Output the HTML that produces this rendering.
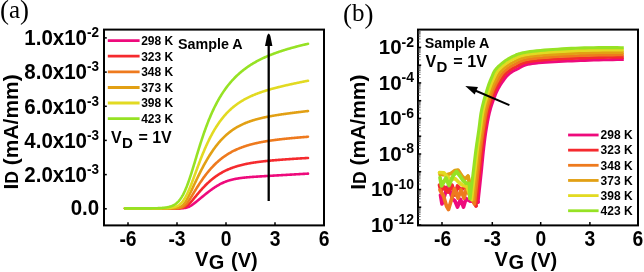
<!DOCTYPE html>
<html><head><meta charset="utf-8"><style>
html,body{margin:0;padding:0;background:#fff;}
body{width:644px;height:272px;overflow:hidden;font-family:"Liberation Sans",sans-serif;}
svg{display:block;will-change:transform;}
</style></head><body>
<svg width="644" height="272" viewBox="0 0 644 272">
<rect width="644" height="272" fill="#fff"/>
<text x="0.00" y="18.90" font-size="27" text-anchor="start" font-family="Liberation Serif, serif" >(</text>
<text x="9.00" y="18.00" font-size="25" text-anchor="start" font-family="Liberation Serif, serif" >a</text>
<text x="20.10" y="18.90" font-size="27" text-anchor="start" font-family="Liberation Serif, serif" >)</text>
<path d="M125.00 208.40 L125.50 208.40 L126.00 208.40 L126.50 208.40 L127.00 208.40 L127.50 208.40 L128.00 208.40 L128.50 208.40 L129.00 208.40 L129.50 208.40 L130.00 208.40 L130.50 208.40 L131.00 208.40 L131.50 208.40 L132.00 208.40 L132.50 208.40 L133.00 208.40 L133.50 208.40 L134.00 208.40 L134.50 208.40 L135.00 208.40 L135.50 208.40 L136.00 208.40 L136.50 208.40 L137.00 208.40 L137.50 208.40 L138.00 208.40 L138.50 208.40 L139.00 208.40 L139.50 208.40 L140.00 208.40 L140.50 208.40 L141.00 208.40 L141.50 208.40 L142.00 208.40 L142.50 208.40 L143.00 208.40 L143.50 208.40 L144.00 208.40 L144.50 208.40 L145.00 208.40 L145.50 208.40 L146.00 208.40 L146.50 208.40 L147.00 208.40 L147.50 208.40 L148.00 208.40 L148.50 208.40 L149.00 208.40 L149.50 208.40 L150.00 208.40 L150.50 208.40 L151.00 208.40 L151.50 208.40 L152.00 208.40 L152.50 208.40 L153.00 208.40 L153.50 208.40 L154.00 208.40 L154.50 208.40 L155.00 208.40 L155.50 208.40 L156.00 208.40 L156.50 208.40 L157.00 208.40 L157.50 208.40 L158.00 208.40 L158.50 208.40 L159.00 208.40 L159.50 208.40 L160.00 208.40 L160.50 208.40 L161.00 208.40 L161.50 208.40 L162.00 208.40 L162.50 208.40 L163.00 208.40 L163.50 208.40 L164.00 208.40 L164.50 208.40 L165.00 208.40 L165.50 208.40 L166.00 208.40 L166.50 208.40 L167.00 208.40 L167.50 208.40 L168.00 208.40 L168.50 208.40 L169.00 208.40 L169.50 208.40 L170.00 208.40 L170.50 208.40 L171.00 208.40 L171.50 208.40 L172.00 208.40 L172.50 208.40 L173.00 208.40 L173.50 208.39 L174.00 208.39 L174.50 208.39 L175.00 208.39 L175.50 208.39 L176.00 208.39 L176.50 208.38 L177.00 208.38 L177.50 208.37 L178.00 208.37 L178.50 208.36 L179.00 208.35 L179.50 208.34 L180.00 208.33 L180.50 208.32 L181.00 208.30 L181.50 208.28 L182.00 208.25 L182.50 208.22 L183.00 208.18 L183.50 208.13 L184.00 208.08 L184.50 208.02 L185.00 207.94 L185.50 207.85 L186.00 207.74 L186.50 207.62 L187.00 207.48 L187.50 207.33 L188.00 207.15 L188.50 206.95 L189.00 206.73 L189.50 206.48 L190.00 206.22 L190.50 205.94 L191.00 205.64 L191.50 205.32 L192.00 204.99 L192.50 204.65 L193.00 204.29 L193.50 203.92 L194.00 203.54 L194.50 203.16 L195.00 202.77 L195.50 202.37 L196.00 201.97 L196.50 201.57 L197.00 201.16 L197.50 200.75 L198.00 200.34 L198.50 199.93 L199.00 199.52 L199.50 199.10 L200.00 198.69 L200.50 198.28 L201.00 197.86 L201.50 197.45 L202.00 197.04 L202.50 196.63 L203.00 196.21 L203.50 195.81 L204.00 195.40 L204.50 194.99 L205.00 194.59 L205.50 194.19 L206.00 193.79 L206.50 193.39 L207.00 193.00 L207.50 192.60 L208.00 192.22 L208.50 191.83 L209.00 191.45 L209.50 191.07 L210.00 190.69 L210.50 190.32 L211.00 189.96 L211.50 189.59 L212.00 189.24 L212.50 188.88 L213.00 188.53 L213.50 188.19 L214.00 187.85 L214.50 187.52 L215.00 187.19 L215.50 186.86 L216.00 186.55 L216.50 186.23 L217.00 185.93 L217.50 185.63 L218.00 185.34 L218.50 185.05 L219.00 184.77 L219.50 184.49 L220.00 184.22 L220.50 183.96 L221.00 183.71 L221.50 183.46 L222.00 183.21 L222.50 182.98 L223.00 182.75 L223.50 182.52 L224.00 182.31 L224.50 182.10 L225.00 181.89 L225.50 181.69 L226.00 181.50 L226.50 181.32 L227.00 181.14 L227.50 180.96 L228.00 180.79 L228.50 180.63 L229.00 180.47 L229.50 180.32 L230.00 180.17 L230.50 180.03 L231.00 179.90 L231.50 179.76 L232.00 179.64 L232.50 179.52 L233.00 179.40 L233.50 179.28 L234.00 179.17 L234.50 179.07 L235.00 178.97 L235.50 178.87 L236.00 178.78 L236.50 178.69 L237.00 178.60 L237.50 178.51 L238.00 178.43 L238.50 178.36 L239.00 178.28 L239.50 178.21 L240.00 178.14 L240.50 178.07 L241.00 178.00 L241.50 177.94 L242.00 177.88 L242.50 177.82 L243.00 177.76 L243.50 177.71 L244.00 177.65 L244.50 177.60 L245.00 177.55 L245.50 177.50 L246.00 177.45 L246.50 177.41 L247.00 177.36 L247.50 177.32 L248.00 177.27 L248.50 177.23 L249.00 177.19 L249.50 177.15 L250.00 177.11 L250.50 177.07 L251.00 177.03 L251.50 176.99 L252.00 176.96 L252.50 176.92 L253.00 176.88 L253.50 176.85 L254.00 176.81 L254.50 176.78 L255.00 176.75 L255.50 176.71 L256.00 176.68 L256.50 176.65 L257.00 176.61 L257.50 176.58 L258.00 176.55 L258.50 176.52 L259.00 176.49 L259.50 176.45 L260.00 176.42 L260.50 176.39 L261.00 176.36 L261.50 176.33 L262.00 176.30 L262.50 176.27 L263.00 176.24 L263.50 176.21 L264.00 176.18 L264.50 176.15 L265.00 176.12 L265.50 176.09 L266.00 176.06 L266.50 176.03 L267.00 176.00 L267.50 175.97 L268.00 175.94 L268.50 175.91 L269.00 175.88 L269.50 175.86 L270.00 175.83 L270.50 175.80 L271.00 175.77 L271.50 175.74 L272.00 175.71 L272.50 175.68 L273.00 175.65 L273.50 175.62 L274.00 175.59 L274.50 175.56 L275.00 175.54 L275.50 175.51 L276.00 175.48 L276.50 175.45 L277.00 175.42 L277.50 175.39 L278.00 175.36 L278.50 175.33 L279.00 175.30 L279.50 175.28 L280.00 175.25 L280.50 175.22 L281.00 175.19 L281.50 175.16 L282.00 175.13 L282.50 175.10 L283.00 175.07 L283.50 175.04 L284.00 175.01 L284.50 174.99 L285.00 174.96 L285.50 174.93 L286.00 174.90 L286.50 174.87 L287.00 174.84 L287.50 174.81 L288.00 174.78 L288.50 174.76 L289.00 174.73 L289.50 174.70 L290.00 174.67 L290.50 174.64 L291.00 174.61 L291.50 174.58 L292.00 174.55 L292.50 174.52 L293.00 174.50 L293.50 174.47 L294.00 174.44 L294.50 174.41 L295.00 174.38 L295.50 174.35 L296.00 174.32 L296.50 174.29 L297.00 174.26 L297.50 174.24 L298.00 174.21 L298.50 174.18 L299.00 174.15 L299.50 174.12 L300.00 174.09 L300.50 174.06 L301.00 174.03 L301.50 174.00 L302.00 173.98 L302.50 173.95 L303.00 173.92 L303.50 173.89 L304.00 173.86 L304.50 173.83 L305.00 173.80 L305.50 173.77 L306.00 173.74 L306.50 173.72 L307.00 173.69 L307.50 173.66 L308.00 173.63" fill="none" stroke="#ee0a7c" stroke-width="2.6" stroke-linejoin="round" stroke-linecap="round" />
<path d="M125.00 208.40 L125.50 208.40 L126.00 208.40 L126.50 208.40 L127.00 208.40 L127.50 208.40 L128.00 208.40 L128.50 208.40 L129.00 208.40 L129.50 208.40 L130.00 208.40 L130.50 208.40 L131.00 208.40 L131.50 208.40 L132.00 208.40 L132.50 208.40 L133.00 208.40 L133.50 208.40 L134.00 208.40 L134.50 208.40 L135.00 208.40 L135.50 208.40 L136.00 208.40 L136.50 208.40 L137.00 208.40 L137.50 208.40 L138.00 208.40 L138.50 208.40 L139.00 208.40 L139.50 208.40 L140.00 208.40 L140.50 208.40 L141.00 208.40 L141.50 208.40 L142.00 208.40 L142.50 208.40 L143.00 208.40 L143.50 208.40 L144.00 208.40 L144.50 208.40 L145.00 208.40 L145.50 208.40 L146.00 208.40 L146.50 208.40 L147.00 208.40 L147.50 208.40 L148.00 208.40 L148.50 208.40 L149.00 208.40 L149.50 208.40 L150.00 208.40 L150.50 208.40 L151.00 208.40 L151.50 208.40 L152.00 208.40 L152.50 208.40 L153.00 208.40 L153.50 208.40 L154.00 208.40 L154.50 208.40 L155.00 208.40 L155.50 208.40 L156.00 208.40 L156.50 208.40 L157.00 208.40 L157.50 208.40 L158.00 208.40 L158.50 208.40 L159.00 208.40 L159.50 208.40 L160.00 208.40 L160.50 208.40 L161.00 208.40 L161.50 208.40 L162.00 208.40 L162.50 208.40 L163.00 208.40 L163.50 208.40 L164.00 208.40 L164.50 208.40 L165.00 208.40 L165.50 208.40 L166.00 208.40 L166.50 208.40 L167.00 208.40 L167.50 208.40 L168.00 208.40 L168.50 208.40 L169.00 208.40 L169.50 208.40 L170.00 208.40 L170.50 208.39 L171.00 208.39 L171.50 208.39 L172.00 208.39 L172.50 208.39 L173.00 208.39 L173.50 208.38 L174.00 208.38 L174.50 208.37 L175.00 208.37 L175.50 208.36 L176.00 208.35 L176.50 208.34 L177.00 208.33 L177.50 208.31 L178.00 208.29 L178.50 208.27 L179.00 208.24 L179.50 208.21 L180.00 208.17 L180.50 208.12 L181.00 208.06 L181.50 207.99 L182.00 207.90 L182.50 207.80 L183.00 207.68 L183.50 207.54 L184.00 207.38 L184.50 207.19 L185.00 206.97 L185.50 206.73 L186.00 206.45 L186.50 206.13 L187.00 205.79 L187.50 205.41 L188.00 205.00 L188.50 204.55 L189.00 204.08 L189.50 203.59 L190.00 203.07 L190.50 202.53 L191.00 201.97 L191.50 201.40 L192.00 200.82 L192.50 200.23 L193.00 199.63 L193.50 199.02 L194.00 198.42 L194.50 197.80 L195.00 197.19 L195.50 196.58 L196.00 195.97 L196.50 195.36 L197.00 194.76 L197.50 194.16 L198.00 193.56 L198.50 192.96 L199.00 192.37 L199.50 191.79 L200.00 191.21 L200.50 190.64 L201.00 190.07 L201.50 189.51 L202.00 188.96 L202.50 188.41 L203.00 187.87 L203.50 187.34 L204.00 186.81 L204.50 186.29 L205.00 185.77 L205.50 185.27 L206.00 184.77 L206.50 184.28 L207.00 183.79 L207.50 183.31 L208.00 182.84 L208.50 182.38 L209.00 181.92 L209.50 181.47 L210.00 181.03 L210.50 180.60 L211.00 180.17 L211.50 179.75 L212.00 179.34 L212.50 178.93 L213.00 178.53 L213.50 178.14 L214.00 177.76 L214.50 177.38 L215.00 177.01 L215.50 176.64 L216.00 176.29 L216.50 175.94 L217.00 175.59 L217.50 175.25 L218.00 174.92 L218.50 174.60 L219.00 174.28 L219.50 173.97 L220.00 173.66 L220.50 173.36 L221.00 173.07 L221.50 172.78 L222.00 172.49 L222.50 172.22 L223.00 171.94 L223.50 171.68 L224.00 171.42 L224.50 171.16 L225.00 170.91 L225.50 170.67 L226.00 170.43 L226.50 170.19 L227.00 169.96 L227.50 169.74 L228.00 169.51 L228.50 169.30 L229.00 169.09 L229.50 168.88 L230.00 168.68 L230.50 168.48 L231.00 168.28 L231.50 168.09 L232.00 167.91 L232.50 167.72 L233.00 167.55 L233.50 167.37 L234.00 167.20 L234.50 167.03 L235.00 166.87 L235.50 166.71 L236.00 166.55 L236.50 166.39 L237.00 166.24 L237.50 166.10 L238.00 165.95 L238.50 165.81 L239.00 165.67 L239.50 165.53 L240.00 165.40 L240.50 165.27 L241.00 165.14 L241.50 165.02 L242.00 164.89 L242.50 164.77 L243.00 164.66 L243.50 164.54 L244.00 164.43 L244.50 164.32 L245.00 164.21 L245.50 164.10 L246.00 164.00 L246.50 163.89 L247.00 163.79 L247.50 163.70 L248.00 163.60 L248.50 163.50 L249.00 163.41 L249.50 163.32 L250.00 163.23 L250.50 163.14 L251.00 163.06 L251.50 162.97 L252.00 162.89 L252.50 162.81 L253.00 162.73 L253.50 162.65 L254.00 162.57 L254.50 162.49 L255.00 162.42 L255.50 162.35 L256.00 162.27 L256.50 162.20 L257.00 162.13 L257.50 162.06 L258.00 162.00 L258.50 161.93 L259.00 161.87 L259.50 161.80 L260.00 161.74 L260.50 161.68 L261.00 161.61 L261.50 161.55 L262.00 161.49 L262.50 161.44 L263.00 161.38 L263.50 161.32 L264.00 161.27 L264.50 161.21 L265.00 161.16 L265.50 161.10 L266.00 161.05 L266.50 161.00 L267.00 160.95 L267.50 160.89 L268.00 160.84 L268.50 160.79 L269.00 160.75 L269.50 160.70 L270.00 160.65 L270.50 160.60 L271.00 160.56 L271.50 160.51 L272.00 160.46 L272.50 160.42 L273.00 160.37 L273.50 160.33 L274.00 160.29 L274.50 160.24 L275.00 160.20 L275.50 160.16 L276.00 160.12 L276.50 160.08 L277.00 160.03 L277.50 159.99 L278.00 159.95 L278.50 159.91 L279.00 159.87 L279.50 159.84 L280.00 159.80 L280.50 159.76 L281.00 159.72 L281.50 159.68 L282.00 159.65 L282.50 159.61 L283.00 159.57 L283.50 159.53 L284.00 159.50 L284.50 159.46 L285.00 159.43 L285.50 159.39 L286.00 159.36 L286.50 159.32 L287.00 159.29 L287.50 159.25 L288.00 159.22 L288.50 159.18 L289.00 159.15 L289.50 159.12 L290.00 159.08 L290.50 159.05 L291.00 159.02 L291.50 158.98 L292.00 158.95 L292.50 158.92 L293.00 158.88 L293.50 158.85 L294.00 158.82 L294.50 158.79 L295.00 158.76 L295.50 158.72 L296.00 158.69 L296.50 158.66 L297.00 158.63 L297.50 158.60 L298.00 158.57 L298.50 158.54 L299.00 158.51 L299.50 158.48 L300.00 158.45 L300.50 158.42 L301.00 158.38 L301.50 158.35 L302.00 158.32 L302.50 158.29 L303.00 158.26 L303.50 158.23 L304.00 158.21 L304.50 158.18 L305.00 158.15 L305.50 158.12 L306.00 158.09 L306.50 158.06 L307.00 158.03 L307.50 158.00 L308.00 157.97" fill="none" stroke="#f52a2e" stroke-width="2.6" stroke-linejoin="round" stroke-linecap="round" />
<path d="M125.00 208.40 L125.50 208.40 L126.00 208.40 L126.50 208.40 L127.00 208.40 L127.50 208.40 L128.00 208.40 L128.50 208.40 L129.00 208.40 L129.50 208.40 L130.00 208.40 L130.50 208.40 L131.00 208.40 L131.50 208.40 L132.00 208.40 L132.50 208.40 L133.00 208.40 L133.50 208.40 L134.00 208.40 L134.50 208.40 L135.00 208.40 L135.50 208.40 L136.00 208.40 L136.50 208.40 L137.00 208.40 L137.50 208.40 L138.00 208.40 L138.50 208.40 L139.00 208.40 L139.50 208.40 L140.00 208.40 L140.50 208.40 L141.00 208.40 L141.50 208.40 L142.00 208.40 L142.50 208.40 L143.00 208.40 L143.50 208.40 L144.00 208.40 L144.50 208.40 L145.00 208.40 L145.50 208.40 L146.00 208.40 L146.50 208.40 L147.00 208.40 L147.50 208.40 L148.00 208.40 L148.50 208.40 L149.00 208.40 L149.50 208.40 L150.00 208.40 L150.50 208.40 L151.00 208.40 L151.50 208.40 L152.00 208.40 L152.50 208.40 L153.00 208.40 L153.50 208.40 L154.00 208.40 L154.50 208.40 L155.00 208.40 L155.50 208.40 L156.00 208.40 L156.50 208.40 L157.00 208.40 L157.50 208.40 L158.00 208.40 L158.50 208.40 L159.00 208.40 L159.50 208.40 L160.00 208.40 L160.50 208.40 L161.00 208.40 L161.50 208.40 L162.00 208.40 L162.50 208.40 L163.00 208.40 L163.50 208.40 L164.00 208.40 L164.50 208.40 L165.00 208.40 L165.50 208.40 L166.00 208.40 L166.50 208.40 L167.00 208.40 L167.50 208.40 L168.00 208.40 L168.50 208.39 L169.00 208.39 L169.50 208.39 L170.00 208.39 L170.50 208.39 L171.00 208.38 L171.50 208.38 L172.00 208.38 L172.50 208.37 L173.00 208.36 L173.50 208.36 L174.00 208.35 L174.50 208.34 L175.00 208.32 L175.50 208.30 L176.00 208.28 L176.50 208.26 L177.00 208.23 L177.50 208.19 L178.00 208.14 L178.50 208.09 L179.00 208.02 L179.50 207.94 L180.00 207.85 L180.50 207.74 L181.00 207.60 L181.50 207.44 L182.00 207.25 L182.50 207.03 L183.00 206.78 L183.50 206.49 L184.00 206.15 L184.50 205.78 L185.00 205.35 L185.50 204.89 L186.00 204.37 L186.50 203.82 L187.00 203.22 L187.50 202.59 L188.00 201.92 L188.50 201.21 L189.00 200.48 L189.50 199.73 L190.00 198.96 L190.50 198.17 L191.00 197.37 L191.50 196.56 L192.00 195.74 L192.50 194.92 L193.00 194.09 L193.50 193.27 L194.00 192.44 L194.50 191.62 L195.00 190.79 L195.50 189.98 L196.00 189.16 L196.50 188.36 L197.00 187.55 L197.50 186.76 L198.00 185.97 L198.50 185.19 L199.00 184.41 L199.50 183.65 L200.00 182.89 L200.50 182.14 L201.00 181.40 L201.50 180.67 L202.00 179.94 L202.50 179.23 L203.00 178.52 L203.50 177.82 L204.00 177.13 L204.50 176.45 L205.00 175.78 L205.50 175.12 L206.00 174.47 L206.50 173.82 L207.00 173.19 L207.50 172.56 L208.00 171.95 L208.50 171.34 L209.00 170.74 L209.50 170.15 L210.00 169.57 L210.50 169.00 L211.00 168.44 L211.50 167.89 L212.00 167.34 L212.50 166.81 L213.00 166.28 L213.50 165.76 L214.00 165.25 L214.50 164.75 L215.00 164.25 L215.50 163.77 L216.00 163.29 L216.50 162.82 L217.00 162.36 L217.50 161.90 L218.00 161.46 L218.50 161.02 L219.00 160.59 L219.50 160.16 L220.00 159.75 L220.50 159.34 L221.00 158.94 L221.50 158.54 L222.00 158.16 L222.50 157.78 L223.00 157.40 L223.50 157.04 L224.00 156.67 L224.50 156.32 L225.00 155.97 L225.50 155.63 L226.00 155.30 L226.50 154.97 L227.00 154.65 L227.50 154.33 L228.00 154.02 L228.50 153.71 L229.00 153.41 L229.50 153.12 L230.00 152.83 L230.50 152.54 L231.00 152.27 L231.50 151.99 L232.00 151.72 L232.50 151.46 L233.00 151.20 L233.50 150.95 L234.00 150.70 L234.50 150.46 L235.00 150.22 L235.50 149.98 L236.00 149.75 L236.50 149.52 L237.00 149.30 L237.50 149.08 L238.00 148.87 L238.50 148.65 L239.00 148.45 L239.50 148.24 L240.00 148.04 L240.50 147.85 L241.00 147.66 L241.50 147.47 L242.00 147.28 L242.50 147.10 L243.00 146.92 L243.50 146.75 L244.00 146.57 L244.50 146.40 L245.00 146.24 L245.50 146.08 L246.00 145.91 L246.50 145.76 L247.00 145.60 L247.50 145.45 L248.00 145.30 L248.50 145.15 L249.00 145.01 L249.50 144.87 L250.00 144.73 L250.50 144.59 L251.00 144.46 L251.50 144.33 L252.00 144.20 L252.50 144.07 L253.00 143.94 L253.50 143.82 L254.00 143.70 L254.50 143.58 L255.00 143.46 L255.50 143.34 L256.00 143.23 L256.50 143.12 L257.00 143.01 L257.50 142.90 L258.00 142.79 L258.50 142.69 L259.00 142.59 L259.50 142.48 L260.00 142.38 L260.50 142.29 L261.00 142.19 L261.50 142.09 L262.00 142.00 L262.50 141.91 L263.00 141.82 L263.50 141.73 L264.00 141.64 L264.50 141.55 L265.00 141.46 L265.50 141.38 L266.00 141.30 L266.50 141.21 L267.00 141.13 L267.50 141.05 L268.00 140.97 L268.50 140.89 L269.00 140.82 L269.50 140.74 L270.00 140.67 L270.50 140.59 L271.00 140.52 L271.50 140.45 L272.00 140.38 L272.50 140.31 L273.00 140.24 L273.50 140.17 L274.00 140.10 L274.50 140.04 L275.00 139.97 L275.50 139.91 L276.00 139.84 L276.50 139.78 L277.00 139.72 L277.50 139.65 L278.00 139.59 L278.50 139.53 L279.00 139.47 L279.50 139.41 L280.00 139.35 L280.50 139.30 L281.00 139.24 L281.50 139.18 L282.00 139.13 L282.50 139.07 L283.00 139.02 L283.50 138.96 L284.00 138.91 L284.50 138.85 L285.00 138.80 L285.50 138.75 L286.00 138.70 L286.50 138.65 L287.00 138.59 L287.50 138.54 L288.00 138.49 L288.50 138.44 L289.00 138.40 L289.50 138.35 L290.00 138.30 L290.50 138.25 L291.00 138.20 L291.50 138.16 L292.00 138.11 L292.50 138.06 L293.00 138.02 L293.50 137.97 L294.00 137.93 L294.50 137.88 L295.00 137.84 L295.50 137.79 L296.00 137.75 L296.50 137.70 L297.00 137.66 L297.50 137.62 L298.00 137.58 L298.50 137.53 L299.00 137.49 L299.50 137.45 L300.00 137.41 L300.50 137.37 L301.00 137.33 L301.50 137.28 L302.00 137.24 L302.50 137.20 L303.00 137.16 L303.50 137.12 L304.00 137.08 L304.50 137.04 L305.00 137.00 L305.50 136.97 L306.00 136.93 L306.50 136.89 L307.00 136.85 L307.50 136.81 L308.00 136.77" fill="none" stroke="#ee7a1e" stroke-width="2.6" stroke-linejoin="round" stroke-linecap="round" />
<path d="M125.00 208.40 L125.50 208.40 L126.00 208.40 L126.50 208.40 L127.00 208.40 L127.50 208.40 L128.00 208.40 L128.50 208.40 L129.00 208.40 L129.50 208.40 L130.00 208.40 L130.50 208.40 L131.00 208.40 L131.50 208.40 L132.00 208.40 L132.50 208.40 L133.00 208.40 L133.50 208.40 L134.00 208.40 L134.50 208.40 L135.00 208.40 L135.50 208.40 L136.00 208.40 L136.50 208.40 L137.00 208.40 L137.50 208.40 L138.00 208.40 L138.50 208.40 L139.00 208.40 L139.50 208.40 L140.00 208.40 L140.50 208.40 L141.00 208.40 L141.50 208.40 L142.00 208.40 L142.50 208.40 L143.00 208.40 L143.50 208.40 L144.00 208.40 L144.50 208.40 L145.00 208.40 L145.50 208.40 L146.00 208.40 L146.50 208.40 L147.00 208.40 L147.50 208.40 L148.00 208.40 L148.50 208.40 L149.00 208.40 L149.50 208.40 L150.00 208.40 L150.50 208.40 L151.00 208.40 L151.50 208.40 L152.00 208.40 L152.50 208.40 L153.00 208.40 L153.50 208.40 L154.00 208.40 L154.50 208.40 L155.00 208.40 L155.50 208.40 L156.00 208.40 L156.50 208.40 L157.00 208.40 L157.50 208.40 L158.00 208.40 L158.50 208.40 L159.00 208.40 L159.50 208.40 L160.00 208.40 L160.50 208.40 L161.00 208.40 L161.50 208.40 L162.00 208.40 L162.50 208.40 L163.00 208.40 L163.50 208.40 L164.00 208.40 L164.50 208.39 L165.00 208.39 L165.50 208.39 L166.00 208.39 L166.50 208.39 L167.00 208.39 L167.50 208.38 L168.00 208.38 L168.50 208.38 L169.00 208.37 L169.50 208.37 L170.00 208.36 L170.50 208.35 L171.00 208.34 L171.50 208.33 L172.00 208.32 L172.50 208.30 L173.00 208.28 L173.50 208.25 L174.00 208.23 L174.50 208.19 L175.00 208.15 L175.50 208.10 L176.00 208.04 L176.50 207.97 L177.00 207.89 L177.50 207.79 L178.00 207.68 L178.50 207.54 L179.00 207.38 L179.50 207.20 L180.00 206.98 L180.50 206.73 L181.00 206.44 L181.50 206.11 L182.00 205.74 L182.50 205.32 L183.00 204.85 L183.50 204.33 L184.00 203.75 L184.50 203.13 L185.00 202.45 L185.50 201.72 L186.00 200.95 L186.50 200.13 L187.00 199.27 L187.50 198.38 L188.00 197.45 L188.50 196.50 L189.00 195.52 L189.50 194.52 L190.00 193.51 L190.50 192.48 L191.00 191.44 L191.50 190.39 L192.00 189.33 L192.50 188.27 L193.00 187.20 L193.50 186.14 L194.00 185.07 L194.50 184.01 L195.00 182.95 L195.50 181.89 L196.00 180.84 L196.50 179.79 L197.00 178.75 L197.50 177.71 L198.00 176.68 L198.50 175.66 L199.00 174.64 L199.50 173.64 L200.00 172.64 L200.50 171.65 L201.00 170.67 L201.50 169.69 L202.00 168.73 L202.50 167.78 L203.00 166.84 L203.50 165.90 L204.00 164.98 L204.50 164.07 L205.00 163.17 L205.50 162.28 L206.00 161.40 L206.50 160.53 L207.00 159.67 L207.50 158.82 L208.00 157.98 L208.50 157.16 L209.00 156.35 L209.50 155.54 L210.00 154.75 L210.50 153.97 L211.00 153.20 L211.50 152.45 L212.00 151.70 L212.50 150.97 L213.00 150.24 L213.50 149.53 L214.00 148.83 L214.50 148.14 L215.00 147.46 L215.50 146.80 L216.00 146.14 L216.50 145.49 L217.00 144.86 L217.50 144.24 L218.00 143.62 L218.50 143.02 L219.00 142.43 L219.50 141.85 L220.00 141.28 L220.50 140.72 L221.00 140.17 L221.50 139.63 L222.00 139.10 L222.50 138.58 L223.00 138.07 L223.50 137.57 L224.00 137.08 L224.50 136.59 L225.00 136.12 L225.50 135.66 L226.00 135.20 L226.50 134.76 L227.00 134.32 L227.50 133.89 L228.00 133.47 L228.50 133.06 L229.00 132.65 L229.50 132.26 L230.00 131.87 L230.50 131.49 L231.00 131.11 L231.50 130.75 L232.00 130.39 L232.50 130.04 L233.00 129.70 L233.50 129.36 L234.00 129.03 L234.50 128.70 L235.00 128.39 L235.50 128.08 L236.00 127.77 L236.50 127.47 L237.00 127.18 L237.50 126.90 L238.00 126.61 L238.50 126.34 L239.00 126.07 L239.50 125.81 L240.00 125.55 L240.50 125.29 L241.00 125.05 L241.50 124.80 L242.00 124.56 L242.50 124.33 L243.00 124.10 L243.50 123.88 L244.00 123.66 L244.50 123.44 L245.00 123.23 L245.50 123.02 L246.00 122.82 L246.50 122.62 L247.00 122.42 L247.50 122.23 L248.00 122.04 L248.50 121.86 L249.00 121.67 L249.50 121.50 L250.00 121.32 L250.50 121.15 L251.00 120.98 L251.50 120.82 L252.00 120.65 L252.50 120.50 L253.00 120.34 L253.50 120.19 L254.00 120.03 L254.50 119.89 L255.00 119.74 L255.50 119.60 L256.00 119.46 L256.50 119.32 L257.00 119.18 L257.50 119.05 L258.00 118.92 L258.50 118.79 L259.00 118.66 L259.50 118.53 L260.00 118.41 L260.50 118.29 L261.00 118.17 L261.50 118.05 L262.00 117.94 L262.50 117.82 L263.00 117.71 L263.50 117.60 L264.00 117.49 L264.50 117.38 L265.00 117.28 L265.50 117.17 L266.00 117.07 L266.50 116.97 L267.00 116.87 L267.50 116.77 L268.00 116.67 L268.50 116.57 L269.00 116.48 L269.50 116.38 L270.00 116.29 L270.50 116.20 L271.00 116.11 L271.50 116.02 L272.00 115.93 L272.50 115.84 L273.00 115.75 L273.50 115.67 L274.00 115.58 L274.50 115.50 L275.00 115.42 L275.50 115.33 L276.00 115.25 L276.50 115.17 L277.00 115.09 L277.50 115.01 L278.00 114.94 L278.50 114.86 L279.00 114.78 L279.50 114.70 L280.00 114.63 L280.50 114.55 L281.00 114.48 L281.50 114.41 L282.00 114.33 L282.50 114.26 L283.00 114.19 L283.50 114.12 L284.00 114.05 L284.50 113.98 L285.00 113.91 L285.50 113.84 L286.00 113.77 L286.50 113.70 L287.00 113.63 L287.50 113.56 L288.00 113.49 L288.50 113.43 L289.00 113.36 L289.50 113.30 L290.00 113.23 L290.50 113.16 L291.00 113.10 L291.50 113.03 L292.00 112.97 L292.50 112.91 L293.00 112.84 L293.50 112.78 L294.00 112.72 L294.50 112.65 L295.00 112.59 L295.50 112.53 L296.00 112.47 L296.50 112.40 L297.00 112.34 L297.50 112.28 L298.00 112.22 L298.50 112.16 L299.00 112.10 L299.50 112.04 L300.00 111.98 L300.50 111.92 L301.00 111.86 L301.50 111.80 L302.00 111.74 L302.50 111.68 L303.00 111.62 L303.50 111.56 L304.00 111.50 L304.50 111.44 L305.00 111.39 L305.50 111.33 L306.00 111.27 L306.50 111.21 L307.00 111.15 L307.50 111.10 L308.00 111.04" fill="none" stroke="#e2a014" stroke-width="2.6" stroke-linejoin="round" stroke-linecap="round" />
<path d="M125.00 208.40 L125.50 208.40 L126.00 208.40 L126.50 208.40 L127.00 208.40 L127.50 208.40 L128.00 208.40 L128.50 208.40 L129.00 208.40 L129.50 208.40 L130.00 208.40 L130.50 208.40 L131.00 208.40 L131.50 208.40 L132.00 208.40 L132.50 208.40 L133.00 208.40 L133.50 208.40 L134.00 208.40 L134.50 208.40 L135.00 208.40 L135.50 208.40 L136.00 208.40 L136.50 208.40 L137.00 208.40 L137.50 208.40 L138.00 208.40 L138.50 208.40 L139.00 208.40 L139.50 208.40 L140.00 208.40 L140.50 208.40 L141.00 208.40 L141.50 208.40 L142.00 208.40 L142.50 208.40 L143.00 208.40 L143.50 208.40 L144.00 208.40 L144.50 208.40 L145.00 208.40 L145.50 208.40 L146.00 208.40 L146.50 208.40 L147.00 208.40 L147.50 208.40 L148.00 208.40 L148.50 208.40 L149.00 208.40 L149.50 208.40 L150.00 208.39 L150.50 208.39 L151.00 208.39 L151.50 208.39 L152.00 208.39 L152.50 208.39 L153.00 208.39 L153.50 208.39 L154.00 208.39 L154.50 208.39 L155.00 208.38 L155.50 208.38 L156.00 208.38 L156.50 208.38 L157.00 208.37 L157.50 208.37 L158.00 208.37 L158.50 208.36 L159.00 208.36 L159.50 208.36 L160.00 208.35 L160.50 208.34 L161.00 208.34 L161.50 208.33 L162.00 208.32 L162.50 208.31 L163.00 208.30 L163.50 208.29 L164.00 208.28 L164.50 208.26 L165.00 208.24 L165.50 208.23 L166.00 208.20 L166.50 208.18 L167.00 208.15 L167.50 208.12 L168.00 208.09 L168.50 208.06 L169.00 208.01 L169.50 207.97 L170.00 207.92 L170.50 207.86 L171.00 207.79 L171.50 207.72 L172.00 207.64 L172.50 207.55 L173.00 207.45 L173.50 207.34 L174.00 207.22 L174.50 207.08 L175.00 206.93 L175.50 206.76 L176.00 206.58 L176.50 206.37 L177.00 206.15 L177.50 205.89 L178.00 205.62 L178.50 205.31 L179.00 204.98 L179.50 204.62 L180.00 204.22 L180.50 203.78 L181.00 203.31 L181.50 202.80 L182.00 202.25 L182.50 201.66 L183.00 201.02 L183.50 200.33 L184.00 199.60 L184.50 198.83 L185.00 198.01 L185.50 197.14 L186.00 196.22 L186.50 195.27 L187.00 194.27 L187.50 193.22 L188.00 192.14 L188.50 191.02 L189.00 189.87 L189.50 188.68 L190.00 187.47 L190.50 186.23 L191.00 184.96 L191.50 183.67 L192.00 182.37 L192.50 181.05 L193.00 179.71 L193.50 178.37 L194.00 177.02 L194.50 175.66 L195.00 174.30 L195.50 172.94 L196.00 171.57 L196.50 170.21 L197.00 168.86 L197.50 167.51 L198.00 166.17 L198.50 164.83 L199.00 163.50 L199.50 162.19 L200.00 160.88 L200.50 159.59 L201.00 158.31 L201.50 157.05 L202.00 155.79 L202.50 154.56 L203.00 153.33 L203.50 152.13 L204.00 150.94 L204.50 149.76 L205.00 148.60 L205.50 147.46 L206.00 146.33 L206.50 145.22 L207.00 144.13 L207.50 143.05 L208.00 141.99 L208.50 140.95 L209.00 139.92 L209.50 138.91 L210.00 137.92 L210.50 136.94 L211.00 135.98 L211.50 135.04 L212.00 134.11 L212.50 133.20 L213.00 132.30 L213.50 131.42 L214.00 130.56 L214.50 129.71 L215.00 128.88 L215.50 128.06 L216.00 127.26 L216.50 126.47 L217.00 125.69 L217.50 124.93 L218.00 124.19 L218.50 123.45 L219.00 122.73 L219.50 122.03 L220.00 121.34 L220.50 120.66 L221.00 119.99 L221.50 119.34 L222.00 118.70 L222.50 118.07 L223.00 117.45 L223.50 116.84 L224.00 116.25 L224.50 115.67 L225.00 115.10 L225.50 114.53 L226.00 113.98 L226.50 113.44 L227.00 112.92 L227.50 112.40 L228.00 111.89 L228.50 111.39 L229.00 110.90 L229.50 110.41 L230.00 109.94 L230.50 109.48 L231.00 109.02 L231.50 108.58 L232.00 108.14 L232.50 107.71 L233.00 107.29 L233.50 106.87 L234.00 106.47 L234.50 106.07 L235.00 105.68 L235.50 105.29 L236.00 104.92 L236.50 104.55 L237.00 104.18 L237.50 103.82 L238.00 103.47 L238.50 103.13 L239.00 102.79 L239.50 102.46 L240.00 102.13 L240.50 101.81 L241.00 101.49 L241.50 101.18 L242.00 100.88 L242.50 100.58 L243.00 100.29 L243.50 100.00 L244.00 99.71 L244.50 99.43 L245.00 99.16 L245.50 98.88 L246.00 98.62 L246.50 98.36 L247.00 98.10 L247.50 97.84 L248.00 97.59 L248.50 97.35 L249.00 97.11 L249.50 96.87 L250.00 96.63 L250.50 96.40 L251.00 96.17 L251.50 95.95 L252.00 95.73 L252.50 95.51 L253.00 95.29 L253.50 95.08 L254.00 94.87 L254.50 94.67 L255.00 94.46 L255.50 94.26 L256.00 94.07 L256.50 93.87 L257.00 93.68 L257.50 93.49 L258.00 93.30 L258.50 93.12 L259.00 92.93 L259.50 92.75 L260.00 92.57 L260.50 92.40 L261.00 92.22 L261.50 92.05 L262.00 91.88 L262.50 91.71 L263.00 91.55 L263.50 91.38 L264.00 91.22 L264.50 91.06 L265.00 90.90 L265.50 90.75 L266.00 90.59 L266.50 90.44 L267.00 90.28 L267.50 90.13 L268.00 89.98 L268.50 89.84 L269.00 89.69 L269.50 89.54 L270.00 89.40 L270.50 89.26 L271.00 89.12 L271.50 88.98 L272.00 88.84 L272.50 88.70 L273.00 88.56 L273.50 88.43 L274.00 88.29 L274.50 88.16 L275.00 88.03 L275.50 87.90 L276.00 87.77 L276.50 87.64 L277.00 87.51 L277.50 87.38 L278.00 87.26 L278.50 87.13 L279.00 87.01 L279.50 86.89 L280.00 86.76 L280.50 86.64 L281.00 86.52 L281.50 86.40 L282.00 86.28 L282.50 86.16 L283.00 86.04 L283.50 85.92 L284.00 85.81 L284.50 85.69 L285.00 85.58 L285.50 85.46 L286.00 85.35 L286.50 85.23 L287.00 85.12 L287.50 85.01 L288.00 84.89 L288.50 84.78 L289.00 84.67 L289.50 84.56 L290.00 84.45 L290.50 84.34 L291.00 84.23 L291.50 84.12 L292.00 84.02 L292.50 83.91 L293.00 83.80 L293.50 83.70 L294.00 83.59 L294.50 83.48 L295.00 83.38 L295.50 83.27 L296.00 83.17 L296.50 83.06 L297.00 82.96 L297.50 82.85 L298.00 82.75 L298.50 82.65 L299.00 82.55 L299.50 82.44 L300.00 82.34 L300.50 82.24 L301.00 82.14 L301.50 82.04 L302.00 81.93 L302.50 81.83 L303.00 81.73 L303.50 81.63 L304.00 81.53 L304.50 81.43 L305.00 81.33 L305.50 81.23 L306.00 81.14 L306.50 81.04 L307.00 80.94 L307.50 80.84 L308.00 80.74" fill="none" stroke="#e2da22" stroke-width="2.6" stroke-linejoin="round" stroke-linecap="round" />
<path d="M125.00 208.40 L125.50 208.40 L126.00 208.40 L126.50 208.40 L127.00 208.40 L127.50 208.40 L128.00 208.40 L128.50 208.40 L129.00 208.40 L129.50 208.40 L130.00 208.40 L130.50 208.40 L131.00 208.40 L131.50 208.40 L132.00 208.40 L132.50 208.40 L133.00 208.40 L133.50 208.40 L134.00 208.40 L134.50 208.40 L135.00 208.40 L135.50 208.40 L136.00 208.40 L136.50 208.39 L137.00 208.39 L137.50 208.39 L138.00 208.39 L138.50 208.39 L139.00 208.39 L139.50 208.39 L140.00 208.39 L140.50 208.39 L141.00 208.39 L141.50 208.39 L142.00 208.39 L142.50 208.38 L143.00 208.38 L143.50 208.38 L144.00 208.38 L144.50 208.38 L145.00 208.38 L145.50 208.37 L146.00 208.37 L146.50 208.37 L147.00 208.37 L147.50 208.36 L148.00 208.36 L148.50 208.36 L149.00 208.35 L149.50 208.35 L150.00 208.34 L150.50 208.34 L151.00 208.33 L151.50 208.33 L152.00 208.32 L152.50 208.31 L153.00 208.31 L153.50 208.30 L154.00 208.29 L154.50 208.28 L155.00 208.27 L155.50 208.25 L156.00 208.24 L156.50 208.23 L157.00 208.21 L157.50 208.19 L158.00 208.17 L158.50 208.15 L159.00 208.13 L159.50 208.11 L160.00 208.08 L160.50 208.05 L161.00 208.02 L161.50 207.99 L162.00 207.95 L162.50 207.91 L163.00 207.86 L163.50 207.82 L164.00 207.76 L164.50 207.71 L165.00 207.64 L165.50 207.58 L166.00 207.50 L166.50 207.42 L167.00 207.33 L167.50 207.24 L168.00 207.14 L168.50 207.02 L169.00 206.90 L169.50 206.77 L170.00 206.62 L170.50 206.47 L171.00 206.30 L171.50 206.11 L172.00 205.92 L172.50 205.70 L173.00 205.47 L173.50 205.21 L174.00 204.94 L174.50 204.65 L175.00 204.33 L175.50 203.99 L176.00 203.62 L176.50 203.22 L177.00 202.79 L177.50 202.33 L178.00 201.84 L178.50 201.32 L179.00 200.76 L179.50 200.16 L180.00 199.52 L180.50 198.84 L181.00 198.11 L181.50 197.35 L182.00 196.54 L182.50 195.68 L183.00 194.78 L183.50 193.83 L184.00 192.83 L184.50 191.79 L185.00 190.69 L185.50 189.56 L186.00 188.37 L186.50 187.14 L187.00 185.87 L187.50 184.56 L188.00 183.20 L188.50 181.81 L189.00 180.38 L189.50 178.92 L190.00 177.42 L190.50 175.90 L191.00 174.35 L191.50 172.78 L192.00 171.18 L192.50 169.57 L193.00 167.95 L193.50 166.31 L194.00 164.66 L194.50 163.01 L195.00 161.35 L195.50 159.69 L196.00 158.03 L196.50 156.38 L197.00 154.72 L197.50 153.08 L198.00 151.44 L198.50 149.82 L199.00 148.20 L199.50 146.60 L200.00 145.01 L200.50 143.44 L201.00 141.88 L201.50 140.34 L202.00 138.82 L202.50 137.31 L203.00 135.83 L203.50 134.36 L204.00 132.92 L204.50 131.49 L205.00 130.09 L205.50 128.70 L206.00 127.34 L206.50 126.00 L207.00 124.68 L207.50 123.38 L208.00 122.10 L208.50 120.84 L209.00 119.60 L209.50 118.38 L210.00 117.18 L210.50 116.00 L211.00 114.85 L211.50 113.71 L212.00 112.59 L212.50 111.49 L213.00 110.41 L213.50 109.35 L214.00 108.31 L214.50 107.28 L215.00 106.28 L215.50 105.29 L216.00 104.31 L216.50 103.36 L217.00 102.42 L217.50 101.50 L218.00 100.59 L218.50 99.70 L219.00 98.83 L219.50 97.97 L220.00 97.13 L220.50 96.30 L221.00 95.48 L221.50 94.68 L222.00 93.90 L222.50 93.12 L223.00 92.36 L223.50 91.62 L224.00 90.88 L224.50 90.16 L225.00 89.45 L225.50 88.76 L226.00 88.07 L226.50 87.40 L227.00 86.73 L227.50 86.08 L228.00 85.44 L228.50 84.81 L229.00 84.20 L229.50 83.59 L230.00 82.99 L230.50 82.40 L231.00 81.82 L231.50 81.25 L232.00 80.69 L232.50 80.14 L233.00 79.60 L233.50 79.06 L234.00 78.54 L234.50 78.02 L235.00 77.51 L235.50 77.01 L236.00 76.52 L236.50 76.03 L237.00 75.56 L237.50 75.09 L238.00 74.62 L238.50 74.17 L239.00 73.72 L239.50 73.28 L240.00 72.84 L240.50 72.41 L241.00 71.99 L241.50 71.57 L242.00 71.17 L242.50 70.76 L243.00 70.36 L243.50 69.97 L244.00 69.58 L244.50 69.20 L245.00 68.83 L245.50 68.46 L246.00 68.09 L246.50 67.73 L247.00 67.38 L247.50 67.03 L248.00 66.68 L248.50 66.34 L249.00 66.01 L249.50 65.68 L250.00 65.35 L250.50 65.03 L251.00 64.71 L251.50 64.40 L252.00 64.09 L252.50 63.78 L253.00 63.48 L253.50 63.19 L254.00 62.89 L254.50 62.60 L255.00 62.32 L255.50 62.03 L256.00 61.76 L256.50 61.48 L257.00 61.21 L257.50 60.94 L258.00 60.67 L258.50 60.41 L259.00 60.15 L259.50 59.90 L260.00 59.64 L260.50 59.39 L261.00 59.15 L261.50 58.90 L262.00 58.66 L262.50 58.42 L263.00 58.19 L263.50 57.95 L264.00 57.72 L264.50 57.49 L265.00 57.27 L265.50 57.05 L266.00 56.83 L266.50 56.61 L267.00 56.39 L267.50 56.18 L268.00 55.97 L268.50 55.76 L269.00 55.55 L269.50 55.35 L270.00 55.14 L270.50 54.94 L271.00 54.74 L271.50 54.55 L272.00 54.35 L272.50 54.16 L273.00 53.97 L273.50 53.78 L274.00 53.59 L274.50 53.41 L275.00 53.22 L275.50 53.04 L276.00 52.86 L276.50 52.68 L277.00 52.51 L277.50 52.33 L278.00 52.16 L278.50 51.98 L279.00 51.81 L279.50 51.64 L280.00 51.48 L280.50 51.31 L281.00 51.15 L281.50 50.98 L282.00 50.82 L282.50 50.66 L283.00 50.50 L283.50 50.34 L284.00 50.18 L284.50 50.03 L285.00 49.87 L285.50 49.72 L286.00 49.57 L286.50 49.42 L287.00 49.27 L287.50 49.12 L288.00 48.97 L288.50 48.82 L289.00 48.68 L289.50 48.53 L290.00 48.39 L290.50 48.25 L291.00 48.11 L291.50 47.97 L292.00 47.83 L292.50 47.69 L293.00 47.55 L293.50 47.42 L294.00 47.28 L294.50 47.15 L295.00 47.01 L295.50 46.88 L296.00 46.75 L296.50 46.62 L297.00 46.48 L297.50 46.35 L298.00 46.23 L298.50 46.10 L299.00 45.97 L299.50 45.84 L300.00 45.72 L300.50 45.59 L301.00 45.47 L301.50 45.34 L302.00 45.22 L302.50 45.10 L303.00 44.98 L303.50 44.86 L304.00 44.74 L304.50 44.62 L305.00 44.50 L305.50 44.38 L306.00 44.26 L306.50 44.14 L307.00 44.03 L307.50 43.91 L308.00 43.80" fill="none" stroke="#96e224" stroke-width="2.6" stroke-linejoin="round" stroke-linecap="round" />
<line x1="268.7" y1="201" x2="268.7" y2="44" stroke="#000" stroke-width="2.3"/>
<path d="M268.7 33.4 Q270.4 34.3 270.9 38.5 L272.4 45.9 L265.0 45.9 L266.5 38.5 Q267.0 34.3 268.7 33.4 Z" fill="#000"/>
<line x1="107.8" y1="40.60" x2="139.6" y2="40.60" stroke="#ee0a7c" stroke-width="2.8"/>
<text x="141.20" y="45.00" font-size="12" text-anchor="start" font-family="Liberation Sans, sans-serif" font-weight="bold" >298 K</text>
<line x1="107.8" y1="56.20" x2="139.6" y2="56.20" stroke="#f52a2e" stroke-width="2.8"/>
<text x="141.20" y="60.60" font-size="12" text-anchor="start" font-family="Liberation Sans, sans-serif" font-weight="bold" >323 K</text>
<line x1="107.8" y1="71.90" x2="139.6" y2="71.90" stroke="#ee7a1e" stroke-width="2.8"/>
<text x="141.20" y="76.30" font-size="12" text-anchor="start" font-family="Liberation Sans, sans-serif" font-weight="bold" >348 K</text>
<line x1="107.8" y1="87.50" x2="139.6" y2="87.50" stroke="#e2a014" stroke-width="2.8"/>
<text x="141.20" y="91.90" font-size="12" text-anchor="start" font-family="Liberation Sans, sans-serif" font-weight="bold" >373 K</text>
<line x1="107.8" y1="103.00" x2="139.6" y2="103.00" stroke="#e2da22" stroke-width="2.8"/>
<text x="141.20" y="107.40" font-size="12" text-anchor="start" font-family="Liberation Sans, sans-serif" font-weight="bold" >398 K</text>
<line x1="107.8" y1="118.60" x2="139.6" y2="118.60" stroke="#96e224" stroke-width="2.8"/>
<text x="141.20" y="123.00" font-size="12" text-anchor="start" font-family="Liberation Sans, sans-serif" font-weight="bold" >423 K</text>
<text x="178.00" y="49.20" font-size="14.3" text-anchor="start" font-family="Liberation Sans, sans-serif" font-weight="bold" >Sample A</text>
<text x="111.00" y="142.60" font-size="16" text-anchor="start" font-family="Liberation Sans, sans-serif" font-weight="bold" >V</text>
<text x="121.90" y="147.90" font-size="15" text-anchor="start" font-family="Liberation Sans, sans-serif" font-weight="bold" >D</text>
<text x="138.40" y="142.50" font-size="16" text-anchor="start" font-family="Liberation Sans, sans-serif" font-weight="bold" >= 1V</text>
<rect x="104" y="29.6" width="220" height="195.8" fill="none" stroke="#000" stroke-width="2"/>
<line x1="104" y1="37.9" x2="106.8" y2="37.9" stroke="#000" stroke-width="1.5"/>
<line x1="104" y1="72.1" x2="106.8" y2="72.1" stroke="#000" stroke-width="1.5"/>
<line x1="104" y1="106.3" x2="106.8" y2="106.3" stroke="#000" stroke-width="1.5"/>
<line x1="104" y1="140.4" x2="106.8" y2="140.4" stroke="#000" stroke-width="1.5"/>
<line x1="104" y1="174.6" x2="106.8" y2="174.6" stroke="#000" stroke-width="1.5"/>
<line x1="104" y1="208.8" x2="106.8" y2="208.8" stroke="#000" stroke-width="1.5"/>
<line x1="128.0" y1="225" x2="128.0" y2="222.2" stroke="#000" stroke-width="1.5"/>
<line x1="177.0" y1="225" x2="177.0" y2="222.2" stroke="#000" stroke-width="1.5"/>
<line x1="226.0" y1="225" x2="226.0" y2="222.2" stroke="#000" stroke-width="1.5"/>
<line x1="275.0" y1="225" x2="275.0" y2="222.2" stroke="#000" stroke-width="1.5"/>
<text transform="translate(99,45.20) scale(1,1.04)" x="0" y="0" text-anchor="end" font-family="Liberation Sans, sans-serif" font-weight="bold"><tspan font-size="20.5">1.0x10</tspan><tspan font-size="13.5" dy="-7.6">-2</tspan></text>
<text transform="translate(99,79.40) scale(1,1.04)" x="0" y="0" text-anchor="end" font-family="Liberation Sans, sans-serif" font-weight="bold"><tspan font-size="20.5">8.0x10</tspan><tspan font-size="13.5" dy="-7.6">-3</tspan></text>
<text transform="translate(99,113.60) scale(1,1.04)" x="0" y="0" text-anchor="end" font-family="Liberation Sans, sans-serif" font-weight="bold"><tspan font-size="20.5">6.0x10</tspan><tspan font-size="13.5" dy="-7.6">-3</tspan></text>
<text transform="translate(99,147.70) scale(1,1.04)" x="0" y="0" text-anchor="end" font-family="Liberation Sans, sans-serif" font-weight="bold"><tspan font-size="20.5">4.0x10</tspan><tspan font-size="13.5" dy="-7.6">-3</tspan></text>
<text transform="translate(99,181.90) scale(1,1.04)" x="0" y="0" text-anchor="end" font-family="Liberation Sans, sans-serif" font-weight="bold"><tspan font-size="20.5">2.0x10</tspan><tspan font-size="13.5" dy="-7.6">-3</tspan></text>
<text transform="translate(99.2,215.30) scale(1,1.04)" x="0" y="0" text-anchor="end" font-size="20.5" font-family="Liberation Sans, sans-serif" font-weight="bold">0.0</text>
<text transform="translate(128.00,245.6) scale(1,1.12)" x="0" y="0" font-size="19.3" text-anchor="middle" font-family="Liberation Sans, sans-serif" font-weight="bold">-6</text>
<text transform="translate(177.00,245.6) scale(1,1.12)" x="0" y="0" font-size="19.3" text-anchor="middle" font-family="Liberation Sans, sans-serif" font-weight="bold">-3</text>
<text transform="translate(226.00,245.6) scale(1,1.12)" x="0" y="0" font-size="19.3" text-anchor="middle" font-family="Liberation Sans, sans-serif" font-weight="bold">0</text>
<text transform="translate(275.00,245.6) scale(1,1.12)" x="0" y="0" font-size="19.3" text-anchor="middle" font-family="Liberation Sans, sans-serif" font-weight="bold">3</text>
<text transform="translate(324.00,245.6) scale(1,1.12)" x="0" y="0" font-size="19.3" text-anchor="middle" font-family="Liberation Sans, sans-serif" font-weight="bold">6</text>
<text x="195.00" y="266.30" font-size="20" text-anchor="start" font-family="Liberation Sans, sans-serif" font-weight="bold" >V</text>
<text x="208.80" y="268.60" font-size="20" text-anchor="start" font-family="Liberation Sans, sans-serif" font-weight="bold" >G</text>
<text x="231.00" y="266.60" font-size="20" text-anchor="start" font-family="Liberation Sans, sans-serif" font-weight="bold" >(V)</text>
<g transform="translate(17.6,189.6) rotate(-90)"><text x="0" y="0" font-family="Liberation Sans, sans-serif" font-weight="bold" font-size="21">I<tspan font-size="17.5" dy="0.8">D</tspan><tspan dy="-0.8"> (mA/mm)</tspan></text></g>
<text x="343.00" y="22.90" font-size="27" text-anchor="start" font-family="Liberation Serif, serif" >(</text>
<text x="352.00" y="21.20" font-size="25" text-anchor="start" font-family="Liberation Serif, serif" >b</text>
<text x="364.50" y="22.90" font-size="27" text-anchor="start" font-family="Liberation Serif, serif" >)</text>
<clipPath id="cb"><rect x="419" y="31" width="204.8" height="193"/></clipPath>
<g clip-path="url(#cb)">
<path d="M440.50 195.00 L442.00 204.00 L444.50 196.00 L447.00 187.50 L450.00 191.00 L452.50 199.00 L455.00 201.00 L457.50 207.00 L460.50 199.50 L463.50 207.00 L466.00 198.50 L470.00 201.00 L478.09 202.07" fill="none" stroke="#ee0a7c" stroke-width="3.7" stroke-linejoin="round" stroke-linecap="round" />
<path d="M439.50 185.00 L441.00 191.00 L444.00 187.00 L448.00 192.00 L452.00 185.00 L455.00 195.00 L457.50 186.00 L461.00 190.00 L466.00 186.00 L470.00 192.00 L476.07 205.94" fill="none" stroke="#f52a2e" stroke-width="3.7" stroke-linejoin="round" stroke-linecap="round" />
<path d="M440.00 190.00 L443.50 196.00 L446.50 206.00 L448.50 209.50 L451.00 201.00 L454.50 189.00 L458.00 198.00 L461.00 190.00 L464.00 198.00 L466.50 188.50 L470.00 196.00 L474.60 204.07" fill="none" stroke="#ee7a1e" stroke-width="3.7" stroke-linejoin="round" stroke-linecap="round" />
<path d="M440.00 174.50 L446.00 175.00 L451.00 173.50 L455.00 170.50 L458.00 170.00 L462.00 176.00 L465.00 179.00 L468.00 176.00 L473.32 200.00" fill="none" stroke="#e2a014" stroke-width="3.7" stroke-linejoin="round" stroke-linecap="round" />
<path d="M439.50 172.50 L444.00 172.80 L447.00 176.50 L451.00 179.50 L455.00 178.50 L459.00 182.50 L463.00 185.50 L467.00 186.50 L471.66 200.00" fill="none" stroke="#e2da22" stroke-width="3.7" stroke-linejoin="round" stroke-linecap="round" />
<path d="M440.00 177.50 L441.50 186.00 L446.00 178.00 L449.00 185.50 L453.00 176.00 L456.50 171.50 L460.00 176.00 L463.00 180.50 L467.00 184.00 L469.00 183.00 L470.11 198.93" fill="none" stroke="#96e224" stroke-width="3.7" stroke-linejoin="round" stroke-linecap="round" />
<path d="M470.00 201.00 L478.09 202.07 L478.19 201.04 L478.30 200.00 L478.41 198.93 L478.53 197.79 L478.66 196.60 L478.79 195.37 L478.92 194.10 L479.06 192.81 L479.20 191.50 L479.34 190.19 L479.49 188.87 L479.63 187.56 L479.76 186.27 L479.90 185.00 L480.03 183.77 L480.16 182.56 L480.29 181.37 L480.42 180.19 L480.55 179.00 L480.67 177.81 L480.80 176.60 L480.94 175.37 L481.07 174.10 L481.21 172.79 L481.35 171.43 L481.50 170.00 L481.65 168.51 L481.80 166.96 L481.96 165.35 L482.11 163.70 L482.27 162.02 L482.44 160.31 L482.60 158.59 L482.77 156.85 L482.95 155.12 L483.13 153.39 L483.31 151.68 L483.50 150.00 L483.69 148.33 L483.88 146.67 L484.07 145.00 L484.27 143.33 L484.47 141.67 L484.68 140.00 L484.89 138.33 L485.11 136.67 L485.34 135.00 L485.58 133.33 L485.83 131.67 L486.10 130.00 L486.38 128.33 L486.66 126.64 L486.95 124.94 L487.25 123.24 L487.56 121.54 L487.88 119.84 L488.21 118.16 L488.55 116.48 L488.91 114.82 L489.29 113.19 L489.69 111.58 L490.10 110.00 L490.54 108.43 L491.01 106.86 L491.50 105.29 L492.01 103.72 L492.54 102.18 L493.08 100.66 L493.62 99.17 L494.17 97.72 L494.71 96.32 L495.25 94.98 L495.78 93.71 L496.30 92.50 L496.81 91.37 L497.31 90.31 L497.81 89.31 L498.31 88.37 L498.81 87.47 L499.31 86.62 L499.81 85.80 L500.31 85.01 L500.80 84.24 L501.30 83.49 L501.80 82.74 L502.30 82.00 L502.79 81.27 L503.27 80.56 L503.75 79.88 L504.21 79.23 L504.68 78.59 L505.16 77.98 L505.64 77.38 L506.13 76.80 L506.64 76.23 L507.17 75.68 L507.72 75.13 L508.30 74.60 L508.89 74.09 L509.46 73.60 L510.04 73.14 L510.62 72.70 L511.22 72.27 L511.84 71.85 L512.49 71.44 L513.19 71.03 L513.94 70.61 L514.76 70.19 L515.64 69.75 L516.60 69.30 L517.55 68.83 L518.43 68.33 L519.27 67.82 L520.11 67.30 L521.02 66.78 L522.01 66.26 L523.15 65.74 L524.46 65.24 L526.00 64.76 L527.81 64.31 L529.93 63.89 L532.40 63.50 L535.27 63.15 L538.53 62.82 L542.12 62.51 L545.99 62.23 L550.08 61.96 L554.34 61.71 L558.72 61.48 L563.17 61.26 L567.62 61.06 L572.03 60.86 L576.34 60.68 L580.50 60.50 L584.73 60.33 L589.24 60.18 L593.94 60.05 L598.73 59.92 L603.53 59.81 L608.26 59.71 L612.81 59.62 L617.11 59.54 L621.07 59.47 L624.60 59.41 L627.60 59.35 L630.00 59.30" fill="none" stroke="#ee0a7c" stroke-width="3.1" stroke-linejoin="round" stroke-linecap="round" />
<path d="M470.00 192.00 L476.07 205.94 L476.15 205.03 L476.24 204.07 L476.34 203.09 L476.43 202.07 L476.53 201.04 L476.64 200.00 L476.75 198.93 L476.87 197.79 L477.00 196.60 L477.13 195.37 L477.27 194.10 L477.41 192.81 L477.55 191.50 L477.69 190.19 L477.84 188.87 L477.98 187.56 L478.12 186.27 L478.26 185.00 L478.39 183.77 L478.53 182.56 L478.66 181.37 L478.79 180.19 L478.92 179.00 L479.05 177.81 L479.18 176.60 L479.32 175.37 L479.46 174.10 L479.60 172.79 L479.75 171.43 L479.90 170.00 L480.06 168.51 L480.21 166.96 L480.38 165.35 L480.54 163.70 L480.71 162.02 L480.88 160.31 L481.05 158.59 L481.23 156.85 L481.41 155.12 L481.59 153.39 L481.78 151.68 L481.98 150.00 L482.18 148.33 L482.38 146.67 L482.58 145.00 L482.78 143.33 L482.99 141.67 L483.21 140.00 L483.42 138.33 L483.65 136.67 L483.88 135.00 L484.13 133.33 L484.38 131.67 L484.64 130.00 L484.91 128.33 L485.18 126.64 L485.45 124.95 L485.73 123.26 L486.01 121.57 L486.31 119.88 L486.62 118.19 L486.94 116.52 L487.27 114.86 L487.63 113.22 L488.00 111.60 L488.40 110.00 L488.82 108.41 L489.28 106.80 L489.76 105.19 L490.26 103.59 L490.77 101.99 L491.30 100.42 L491.83 98.89 L492.37 97.39 L492.90 95.95 L493.43 94.56 L493.94 93.24 L494.44 92.00 L494.93 90.84 L495.40 89.75 L495.88 88.73 L496.35 87.76 L496.82 86.84 L497.29 85.97 L497.76 85.13 L498.22 84.32 L498.69 83.53 L499.16 82.75 L499.64 81.98 L500.12 81.20 L500.59 80.43 L501.05 79.70 L501.50 78.98 L501.94 78.29 L502.38 77.62 L502.83 76.96 L503.30 76.32 L503.78 75.70 L504.29 75.08 L504.83 74.48 L505.40 73.88 L506.02 73.28 L506.66 72.69 L507.31 72.12 L507.97 71.57 L508.65 71.02 L509.36 70.49 L510.09 69.97 L510.86 69.45 L511.68 68.94 L512.54 68.43 L513.46 67.93 L514.44 67.43 L515.48 66.92 L516.50 66.41 L517.45 65.89 L518.35 65.37 L519.26 64.85 L520.21 64.33 L521.26 63.82 L522.45 63.33 L523.81 62.84 L525.39 62.38 L527.25 61.93 L529.41 61.52 L531.92 61.13 L534.83 60.77 L538.13 60.43 L541.76 60.11 L545.67 59.81 L549.79 59.53 L554.09 59.27 L558.50 59.02 L562.97 58.79 L567.45 58.57 L571.88 58.37 L576.22 58.18 L580.40 58.00 L584.65 57.84 L589.18 57.70 L593.88 57.57 L598.69 57.47 L603.50 57.37 L608.23 57.29 L612.79 57.23 L617.10 57.17 L621.06 57.11 L624.59 57.07 L627.60 57.02 L630.00 56.98" fill="none" stroke="#f52a2e" stroke-width="3.1" stroke-linejoin="round" stroke-linecap="round" />
<path d="M470.00 196.00 L474.60 204.07 L474.69 203.09 L474.78 202.07 L474.88 201.04 L474.98 200.00 L475.09 198.93 L475.21 197.79 L475.34 196.60 L475.47 195.37 L475.61 194.10 L475.75 192.81 L475.90 191.50 L476.04 190.19 L476.19 188.87 L476.34 187.56 L476.48 186.27 L476.62 185.00 L476.76 183.77 L476.89 182.56 L477.03 181.37 L477.16 180.19 L477.29 179.00 L477.43 177.81 L477.56 176.60 L477.70 175.37 L477.85 174.10 L477.99 172.79 L478.14 171.43 L478.30 170.00 L478.46 168.51 L478.63 166.96 L478.79 165.35 L478.96 163.70 L479.14 162.02 L479.31 160.31 L479.50 158.59 L479.68 156.85 L479.87 155.12 L480.06 153.39 L480.26 151.68 L480.46 150.00 L480.66 148.33 L480.87 146.67 L481.08 145.00 L481.30 143.33 L481.51 141.67 L481.73 140.00 L481.96 138.33 L482.19 136.67 L482.43 135.00 L482.67 133.33 L482.92 131.67 L483.18 130.00 L483.44 128.33 L483.69 126.65 L483.95 124.96 L484.21 123.28 L484.47 121.59 L484.74 119.91 L485.03 118.23 L485.32 116.56 L485.64 114.89 L485.97 113.25 L486.32 111.61 L486.70 110.00 L487.11 108.38 L487.55 106.74 L488.02 105.10 L488.50 103.45 L489.01 101.81 L489.53 100.19 L490.05 98.61 L490.57 97.06 L491.09 95.57 L491.60 94.14 L492.10 92.78 L492.58 91.50 L493.04 90.31 L493.50 89.19 L493.95 88.14 L494.39 87.15 L494.83 86.22 L495.26 85.32 L495.70 84.46 L496.14 83.63 L496.58 82.81 L497.03 82.01 L497.48 81.21 L497.94 80.40 L498.39 79.60 L498.83 78.83 L499.25 78.08 L499.66 77.35 L500.08 76.64 L500.51 75.95 L500.96 75.27 L501.43 74.60 L501.94 73.94 L502.49 73.28 L503.09 72.62 L503.74 71.96 L504.44 71.30 L505.16 70.65 L505.90 69.99 L506.68 69.35 L507.50 68.71 L508.35 68.08 L509.23 67.46 L510.16 66.85 L511.14 66.26 L512.16 65.67 L513.23 65.10 L514.36 64.54 L515.46 63.99 L516.46 63.45 L517.43 62.92 L518.40 62.40 L519.41 61.89 L520.51 61.39 L521.74 60.91 L523.15 60.44 L524.78 59.99 L526.68 59.56 L528.88 59.15 L531.44 58.76 L534.40 58.39 L537.73 58.04 L541.40 57.71 L545.34 57.40 L549.50 57.10 L553.83 56.82 L558.27 56.56 L562.77 56.31 L567.28 56.09 L571.74 55.87 L576.10 55.68 L580.30 55.50 L584.57 55.34 L589.11 55.21 L593.83 55.10 L598.65 55.01 L603.47 54.94 L608.20 54.88 L612.77 54.83 L617.08 54.79 L621.05 54.75 L624.58 54.72 L627.60 54.69 L630.00 54.66" fill="none" stroke="#ee7a1e" stroke-width="3.1" stroke-linejoin="round" stroke-linecap="round" />
<path d="M468.00 176.00 L473.32 200.00 L473.43 198.93 L473.55 197.79 L473.67 196.60 L473.81 195.37 L473.95 194.10 L474.09 192.81 L474.24 191.50 L474.39 190.19 L474.54 188.87 L474.69 187.56 L474.84 186.27 L474.98 185.00 L475.12 183.77 L475.26 182.56 L475.39 181.37 L475.53 180.19 L475.67 179.00 L475.80 177.81 L475.94 176.60 L476.09 175.37 L476.23 174.10 L476.38 172.79 L476.54 171.43 L476.70 170.00 L476.87 168.51 L477.04 166.96 L477.21 165.35 L477.39 163.70 L477.57 162.02 L477.75 160.31 L477.94 158.59 L478.13 156.85 L478.33 155.12 L478.53 153.39 L478.73 151.68 L478.94 150.00 L479.15 148.33 L479.37 146.67 L479.59 145.00 L479.81 143.33 L480.03 141.67 L480.27 140.00 L480.50 138.33 L480.74 136.67 L480.98 135.00 L481.22 133.33 L481.47 131.67 L481.72 130.00 L481.97 128.33 L482.21 126.66 L482.45 124.98 L482.69 123.30 L482.93 121.62 L483.18 119.94 L483.44 118.26 L483.71 116.59 L484.00 114.93 L484.31 113.28 L484.64 111.63 L485.00 110.00 L485.39 108.36 L485.82 106.69 L486.27 105.00 L486.75 103.31 L487.24 101.63 L487.75 99.96 L488.26 98.33 L488.77 96.73 L489.28 95.19 L489.78 93.72 L490.26 92.31 L490.72 91.00 L491.16 89.78 L491.59 88.63 L492.01 87.56 L492.43 86.55 L492.83 85.59 L493.24 84.67 L493.65 83.79 L494.06 82.94 L494.47 82.10 L494.89 81.27 L495.32 80.44 L495.76 79.60 L496.19 78.77 L496.60 77.96 L497.00 77.18 L497.39 76.41 L497.78 75.67 L498.19 74.94 L498.62 74.22 L499.09 73.50 L499.59 72.79 L500.15 72.08 L500.77 71.36 L501.46 70.64 L502.21 69.91 L503.00 69.17 L503.84 68.42 L504.72 67.68 L505.64 66.94 L506.60 66.20 L507.60 65.48 L508.65 64.77 L509.73 64.08 L510.86 63.41 L512.03 62.77 L513.24 62.16 L514.41 61.58 L515.48 61.01 L516.51 60.47 L517.54 59.95 L518.61 59.44 L519.76 58.96 L521.04 58.49 L522.50 58.04 L524.17 57.60 L526.11 57.18 L528.36 56.78 L530.96 56.39 L533.96 56.02 L537.34 55.66 L541.04 55.31 L545.02 54.98 L549.21 54.67 L553.58 54.38 L558.05 54.10 L562.58 53.84 L567.11 53.60 L571.60 53.38 L575.98 53.18 L580.20 53.00 L584.49 52.85 L589.04 52.72 L593.78 52.63 L598.60 52.55 L603.43 52.50 L608.18 52.46 L612.75 52.43 L617.07 52.41 L621.04 52.39 L624.58 52.38 L627.59 52.36 L630.00 52.34" fill="none" stroke="#e2a014" stroke-width="3.1" stroke-linejoin="round" stroke-linecap="round" />
<path d="M467.00 186.50 L471.66 200.00 L471.77 198.93 L471.89 197.79 L472.01 196.60 L472.15 195.37 L472.29 194.10 L472.44 192.81 L472.59 191.50 L472.74 190.19 L472.89 188.87 L473.04 187.56 L473.19 186.27 L473.34 185.00 L473.48 183.77 L473.62 182.56 L473.76 181.37 L473.90 180.19 L474.04 179.00 L474.18 177.81 L474.32 176.60 L474.47 175.37 L474.62 174.10 L474.77 172.79 L474.93 171.43 L475.10 170.00 L475.27 168.51 L475.45 166.96 L475.63 165.35 L475.81 163.70 L476.00 162.02 L476.19 160.31 L476.39 158.59 L476.59 156.85 L476.79 155.12 L477.00 153.39 L477.21 151.68 L477.42 150.00 L477.64 148.33 L477.86 146.67 L478.09 145.00 L478.32 143.33 L478.56 141.67 L478.79 140.00 L479.04 138.33 L479.28 136.67 L479.52 135.00 L479.77 133.33 L480.01 131.67 L480.26 130.00 L480.50 128.33 L480.73 126.66 L480.95 124.99 L481.17 123.31 L481.38 121.64 L481.61 119.97 L481.84 118.30 L482.09 116.63 L482.36 114.96 L482.65 113.30 L482.96 111.65 L483.30 110.00 L483.68 108.33 L484.09 106.63 L484.53 104.91 L485.00 103.17 L485.48 101.44 L485.98 99.73 L486.48 98.05 L486.98 96.40 L487.47 94.81 L487.95 93.29 L488.42 91.85 L488.86 90.50 L489.28 89.24 L489.69 88.07 L490.08 86.97 L490.46 85.94 L490.84 84.96 L491.22 84.02 L491.59 83.12 L491.97 82.25 L492.36 81.39 L492.75 80.53 L493.16 79.67 L493.58 78.80 L493.99 77.93 L494.38 77.09 L494.75 76.28 L495.11 75.48 L495.48 74.70 L495.87 73.92 L496.28 73.16 L496.74 72.40 L497.24 71.64 L497.81 70.88 L498.45 70.11 L499.18 69.32 L499.98 68.52 L500.85 67.69 L501.77 66.85 L502.75 66.00 L503.78 65.16 L504.85 64.32 L505.97 63.49 L507.13 62.68 L508.33 61.90 L509.56 61.15 L510.83 60.44 L512.12 59.78 L513.36 59.16 L514.50 58.58 L515.60 58.02 L516.68 57.50 L517.80 57.00 L519.01 56.52 L520.34 56.07 L521.84 55.63 L523.57 55.21 L525.55 54.81 L527.84 54.41 L530.48 54.02 L533.52 53.64 L536.94 53.27 L540.68 52.91 L544.69 52.57 L548.92 52.24 L553.32 51.93 L557.82 51.64 L562.38 51.37 L566.94 51.11 L571.45 50.88 L575.86 50.68 L580.10 50.50 L584.41 50.35 L588.98 50.24 L593.72 50.15 L598.56 50.10 L603.40 50.06 L608.15 50.04 L612.73 50.03 L617.05 50.03 L621.03 50.04 L624.57 50.04 L627.59 50.03 L630.00 50.02" fill="none" stroke="#e2da22" stroke-width="3.1" stroke-linejoin="round" stroke-linecap="round" />
<path d="M469.00 183.00 L470.11 198.93 L470.22 197.79 L470.35 196.60 L470.49 195.37 L470.63 194.10 L470.78 192.81 L470.93 191.50 L471.09 190.19 L471.24 188.87 L471.40 187.56 L471.55 186.27 L471.70 185.00 L471.84 183.77 L471.99 182.56 L472.13 181.37 L472.27 180.19 L472.41 179.00 L472.56 177.81 L472.70 176.60 L472.85 175.37 L473.01 174.10 L473.16 172.79 L473.33 171.43 L473.50 170.00 L473.68 168.51 L473.86 166.96 L474.05 165.35 L474.24 163.70 L474.43 162.02 L474.63 160.31 L474.83 158.59 L475.04 156.85 L475.25 155.12 L475.46 153.39 L475.68 151.68 L475.90 150.00 L476.12 148.33 L476.36 146.67 L476.59 145.00 L476.83 143.33 L477.08 141.67 L477.32 140.00 L477.57 138.33 L477.82 136.67 L478.07 135.00 L478.32 133.33 L478.56 131.67 L478.80 130.00 L479.03 128.33 L479.24 126.67 L479.45 125.00 L479.64 123.33 L479.84 121.67 L480.04 120.00 L480.25 118.33 L480.48 116.67 L480.72 115.00 L480.98 113.33 L481.28 111.67 L481.60 110.00 L481.96 108.31 L482.36 106.57 L482.79 104.81 L483.24 103.04 L483.72 101.26 L484.20 99.50 L484.69 97.77 L485.18 96.07 L485.66 94.44 L486.13 92.87 L486.58 91.39 L487.00 90.00 L487.40 88.71 L487.78 87.51 L488.14 86.39 L488.50 85.33 L488.85 84.33 L489.19 83.38 L489.54 82.45 L489.89 81.56 L490.25 80.67 L490.61 79.79 L491.00 78.90 L491.40 78.00 L491.79 77.10 L492.15 76.22 L492.50 75.37 L492.83 74.54 L493.18 73.72 L493.54 72.91 L493.94 72.11 L494.39 71.30 L494.89 70.50 L495.47 69.68 L496.14 68.85 L496.90 68.00 L497.76 67.12 L498.70 66.21 L499.71 65.28 L500.78 64.33 L501.92 63.38 L503.11 62.43 L504.34 61.50 L505.62 60.60 L506.93 59.72 L508.27 58.89 L509.63 58.12 L511.00 57.40 L512.31 56.74 L513.52 56.14 L514.68 55.57 L515.82 55.05 L517.00 54.55 L518.26 54.09 L519.64 53.65 L521.19 53.23 L522.96 52.83 L524.98 52.43 L527.32 52.04 L530.00 51.65 L533.08 51.26 L536.54 50.88 L540.32 50.51 L544.37 50.15 L548.64 49.81 L553.06 49.48 L557.60 49.18 L562.19 48.89 L566.77 48.63 L571.31 48.39 L575.73 48.18 L580.00 48.00 L584.33 47.86 L588.91 47.75 L593.67 47.68 L598.52 47.64 L603.37 47.62 L608.12 47.62 L612.71 47.63 L617.04 47.65 L621.02 47.68 L624.56 47.69 L627.58 47.70 L630.00 47.70" fill="none" stroke="#96e224" stroke-width="3.1" stroke-linejoin="round" stroke-linecap="round" />
</g>
<line x1="509.4" y1="105.1" x2="474" y2="90" stroke="#000" stroke-width="2"/>
<path d="M465.30 86.00 L477.98 86.92 L474.64 94.62 Z" fill="#000"/>
<text x="424.80" y="48.00" font-size="14.3" text-anchor="start" font-family="Liberation Sans, sans-serif" font-weight="bold" >Sample A</text>
<text x="425.50" y="66.70" font-size="16" text-anchor="start" font-family="Liberation Sans, sans-serif" font-weight="bold" >V</text>
<text x="436.50" y="72.40" font-size="15" text-anchor="start" font-family="Liberation Sans, sans-serif" font-weight="bold" >D</text>
<text x="453.30" y="66.90" font-size="16.2" text-anchor="start" font-family="Liberation Sans, sans-serif" font-weight="bold" >= 1V</text>
<line x1="568.1" y1="135.00" x2="598.6" y2="135.00" stroke="#ee0a7c" stroke-width="2.8"/>
<text x="600.60" y="139.20" font-size="12" text-anchor="start" font-family="Liberation Sans, sans-serif" font-weight="bold" >298 K</text>
<line x1="568.1" y1="150.15" x2="598.6" y2="150.15" stroke="#f52a2e" stroke-width="2.8"/>
<text x="600.60" y="154.35" font-size="12" text-anchor="start" font-family="Liberation Sans, sans-serif" font-weight="bold" >323 K</text>
<line x1="568.1" y1="165.30" x2="598.6" y2="165.30" stroke="#ee7a1e" stroke-width="2.8"/>
<text x="600.60" y="169.50" font-size="12" text-anchor="start" font-family="Liberation Sans, sans-serif" font-weight="bold" >348 K</text>
<line x1="568.1" y1="180.45" x2="598.6" y2="180.45" stroke="#e2a014" stroke-width="2.8"/>
<text x="600.60" y="184.65" font-size="12" text-anchor="start" font-family="Liberation Sans, sans-serif" font-weight="bold" >373 K</text>
<line x1="568.1" y1="195.60" x2="598.6" y2="195.60" stroke="#e2da22" stroke-width="2.8"/>
<text x="600.60" y="199.80" font-size="12" text-anchor="start" font-family="Liberation Sans, sans-serif" font-weight="bold" >398 K</text>
<line x1="568.1" y1="210.75" x2="598.6" y2="210.75" stroke="#96e224" stroke-width="2.8"/>
<text x="600.60" y="214.95" font-size="12" text-anchor="start" font-family="Liberation Sans, sans-serif" font-weight="bold" >423 K</text>
<rect x="418" y="29.6" width="220" height="195.8" fill="none" stroke="#000" stroke-width="2"/>
<line x1="418" y1="225.0" x2="421.2" y2="225.0" stroke="#000" stroke-width="1.5"/>
<line x1="418" y1="219.7" x2="420.6" y2="219.7" stroke="#444" stroke-width="0.8"/>
<line x1="418" y1="216.5" x2="420.6" y2="216.5" stroke="#444" stroke-width="0.8"/>
<line x1="418" y1="214.3" x2="420.6" y2="214.3" stroke="#444" stroke-width="0.8"/>
<line x1="418" y1="212.6" x2="420.6" y2="212.6" stroke="#444" stroke-width="0.8"/>
<line x1="418" y1="211.2" x2="420.6" y2="211.2" stroke="#444" stroke-width="0.8"/>
<line x1="418" y1="210.0" x2="420.6" y2="210.0" stroke="#444" stroke-width="0.8"/>
<line x1="418" y1="209.0" x2="420.6" y2="209.0" stroke="#444" stroke-width="0.8"/>
<line x1="418" y1="208.1" x2="420.6" y2="208.1" stroke="#444" stroke-width="0.8"/>
<line x1="418" y1="207.2" x2="421.2" y2="207.2" stroke="#000" stroke-width="1.5"/>
<line x1="418" y1="201.9" x2="420.6" y2="201.9" stroke="#444" stroke-width="0.8"/>
<line x1="418" y1="198.8" x2="420.6" y2="198.8" stroke="#444" stroke-width="0.8"/>
<line x1="418" y1="196.5" x2="420.6" y2="196.5" stroke="#444" stroke-width="0.8"/>
<line x1="418" y1="194.8" x2="420.6" y2="194.8" stroke="#444" stroke-width="0.8"/>
<line x1="418" y1="193.4" x2="420.6" y2="193.4" stroke="#444" stroke-width="0.8"/>
<line x1="418" y1="192.2" x2="420.6" y2="192.2" stroke="#444" stroke-width="0.8"/>
<line x1="418" y1="191.2" x2="420.6" y2="191.2" stroke="#444" stroke-width="0.8"/>
<line x1="418" y1="190.3" x2="420.6" y2="190.3" stroke="#444" stroke-width="0.8"/>
<line x1="418" y1="189.5" x2="421.2" y2="189.5" stroke="#000" stroke-width="1.5"/>
<line x1="418" y1="184.1" x2="420.6" y2="184.1" stroke="#444" stroke-width="0.8"/>
<line x1="418" y1="181.0" x2="420.6" y2="181.0" stroke="#444" stroke-width="0.8"/>
<line x1="418" y1="178.8" x2="420.6" y2="178.8" stroke="#444" stroke-width="0.8"/>
<line x1="418" y1="177.1" x2="420.6" y2="177.1" stroke="#444" stroke-width="0.8"/>
<line x1="418" y1="175.7" x2="420.6" y2="175.7" stroke="#444" stroke-width="0.8"/>
<line x1="418" y1="174.5" x2="420.6" y2="174.5" stroke="#444" stroke-width="0.8"/>
<line x1="418" y1="173.4" x2="420.6" y2="173.4" stroke="#444" stroke-width="0.8"/>
<line x1="418" y1="172.5" x2="420.6" y2="172.5" stroke="#444" stroke-width="0.8"/>
<line x1="418" y1="171.7" x2="421.2" y2="171.7" stroke="#000" stroke-width="1.5"/>
<line x1="418" y1="166.4" x2="420.6" y2="166.4" stroke="#444" stroke-width="0.8"/>
<line x1="418" y1="163.2" x2="420.6" y2="163.2" stroke="#444" stroke-width="0.8"/>
<line x1="418" y1="161.0" x2="420.6" y2="161.0" stroke="#444" stroke-width="0.8"/>
<line x1="418" y1="159.3" x2="420.6" y2="159.3" stroke="#444" stroke-width="0.8"/>
<line x1="418" y1="157.9" x2="420.6" y2="157.9" stroke="#444" stroke-width="0.8"/>
<line x1="418" y1="156.7" x2="420.6" y2="156.7" stroke="#444" stroke-width="0.8"/>
<line x1="418" y1="155.7" x2="420.6" y2="155.7" stroke="#444" stroke-width="0.8"/>
<line x1="418" y1="154.8" x2="420.6" y2="154.8" stroke="#444" stroke-width="0.8"/>
<line x1="418" y1="154.0" x2="421.2" y2="154.0" stroke="#000" stroke-width="1.5"/>
<line x1="418" y1="148.6" x2="420.6" y2="148.6" stroke="#444" stroke-width="0.8"/>
<line x1="418" y1="145.5" x2="420.6" y2="145.5" stroke="#444" stroke-width="0.8"/>
<line x1="418" y1="143.3" x2="420.6" y2="143.3" stroke="#444" stroke-width="0.8"/>
<line x1="418" y1="141.5" x2="420.6" y2="141.5" stroke="#444" stroke-width="0.8"/>
<line x1="418" y1="140.1" x2="420.6" y2="140.1" stroke="#444" stroke-width="0.8"/>
<line x1="418" y1="139.0" x2="420.6" y2="139.0" stroke="#444" stroke-width="0.8"/>
<line x1="418" y1="137.9" x2="420.6" y2="137.9" stroke="#444" stroke-width="0.8"/>
<line x1="418" y1="137.0" x2="420.6" y2="137.0" stroke="#444" stroke-width="0.8"/>
<line x1="418" y1="136.2" x2="421.2" y2="136.2" stroke="#000" stroke-width="1.5"/>
<line x1="418" y1="130.9" x2="420.6" y2="130.9" stroke="#444" stroke-width="0.8"/>
<line x1="418" y1="127.7" x2="420.6" y2="127.7" stroke="#444" stroke-width="0.8"/>
<line x1="418" y1="125.5" x2="420.6" y2="125.5" stroke="#444" stroke-width="0.8"/>
<line x1="418" y1="123.8" x2="420.6" y2="123.8" stroke="#444" stroke-width="0.8"/>
<line x1="418" y1="122.4" x2="420.6" y2="122.4" stroke="#444" stroke-width="0.8"/>
<line x1="418" y1="121.2" x2="420.6" y2="121.2" stroke="#444" stroke-width="0.8"/>
<line x1="418" y1="120.2" x2="420.6" y2="120.2" stroke="#444" stroke-width="0.8"/>
<line x1="418" y1="119.3" x2="420.6" y2="119.3" stroke="#444" stroke-width="0.8"/>
<line x1="418" y1="118.4" x2="421.2" y2="118.4" stroke="#000" stroke-width="1.5"/>
<line x1="418" y1="113.1" x2="420.6" y2="113.1" stroke="#444" stroke-width="0.8"/>
<line x1="418" y1="110.0" x2="420.6" y2="110.0" stroke="#444" stroke-width="0.8"/>
<line x1="418" y1="107.7" x2="420.6" y2="107.7" stroke="#444" stroke-width="0.8"/>
<line x1="418" y1="106.0" x2="420.6" y2="106.0" stroke="#444" stroke-width="0.8"/>
<line x1="418" y1="104.6" x2="420.6" y2="104.6" stroke="#444" stroke-width="0.8"/>
<line x1="418" y1="103.4" x2="420.6" y2="103.4" stroke="#444" stroke-width="0.8"/>
<line x1="418" y1="102.4" x2="420.6" y2="102.4" stroke="#444" stroke-width="0.8"/>
<line x1="418" y1="101.5" x2="420.6" y2="101.5" stroke="#444" stroke-width="0.8"/>
<line x1="418" y1="100.7" x2="421.2" y2="100.7" stroke="#000" stroke-width="1.5"/>
<line x1="418" y1="95.3" x2="420.6" y2="95.3" stroke="#444" stroke-width="0.8"/>
<line x1="418" y1="92.2" x2="420.6" y2="92.2" stroke="#444" stroke-width="0.8"/>
<line x1="418" y1="90.0" x2="420.6" y2="90.0" stroke="#444" stroke-width="0.8"/>
<line x1="418" y1="88.3" x2="420.6" y2="88.3" stroke="#444" stroke-width="0.8"/>
<line x1="418" y1="86.9" x2="420.6" y2="86.9" stroke="#444" stroke-width="0.8"/>
<line x1="418" y1="85.7" x2="420.6" y2="85.7" stroke="#444" stroke-width="0.8"/>
<line x1="418" y1="84.6" x2="420.6" y2="84.6" stroke="#444" stroke-width="0.8"/>
<line x1="418" y1="83.7" x2="420.6" y2="83.7" stroke="#444" stroke-width="0.8"/>
<line x1="418" y1="82.9" x2="421.2" y2="82.9" stroke="#000" stroke-width="1.5"/>
<line x1="418" y1="77.6" x2="420.6" y2="77.6" stroke="#444" stroke-width="0.8"/>
<line x1="418" y1="74.4" x2="420.6" y2="74.4" stroke="#444" stroke-width="0.8"/>
<line x1="418" y1="72.2" x2="420.6" y2="72.2" stroke="#444" stroke-width="0.8"/>
<line x1="418" y1="70.5" x2="420.6" y2="70.5" stroke="#444" stroke-width="0.8"/>
<line x1="418" y1="69.1" x2="420.6" y2="69.1" stroke="#444" stroke-width="0.8"/>
<line x1="418" y1="67.9" x2="420.6" y2="67.9" stroke="#444" stroke-width="0.8"/>
<line x1="418" y1="66.9" x2="420.6" y2="66.9" stroke="#444" stroke-width="0.8"/>
<line x1="418" y1="66.0" x2="420.6" y2="66.0" stroke="#444" stroke-width="0.8"/>
<line x1="418" y1="65.2" x2="421.2" y2="65.2" stroke="#000" stroke-width="1.5"/>
<line x1="418" y1="59.8" x2="420.6" y2="59.8" stroke="#444" stroke-width="0.8"/>
<line x1="418" y1="56.7" x2="420.6" y2="56.7" stroke="#444" stroke-width="0.8"/>
<line x1="418" y1="54.5" x2="420.6" y2="54.5" stroke="#444" stroke-width="0.8"/>
<line x1="418" y1="52.7" x2="420.6" y2="52.7" stroke="#444" stroke-width="0.8"/>
<line x1="418" y1="51.3" x2="420.6" y2="51.3" stroke="#444" stroke-width="0.8"/>
<line x1="418" y1="50.2" x2="420.6" y2="50.2" stroke="#444" stroke-width="0.8"/>
<line x1="418" y1="49.1" x2="420.6" y2="49.1" stroke="#444" stroke-width="0.8"/>
<line x1="418" y1="48.2" x2="420.6" y2="48.2" stroke="#444" stroke-width="0.8"/>
<line x1="418" y1="47.4" x2="421.2" y2="47.4" stroke="#000" stroke-width="1.5"/>
<line x1="418" y1="42.1" x2="420.6" y2="42.1" stroke="#444" stroke-width="0.8"/>
<line x1="418" y1="38.9" x2="420.6" y2="38.9" stroke="#444" stroke-width="0.8"/>
<line x1="418" y1="36.7" x2="420.6" y2="36.7" stroke="#444" stroke-width="0.8"/>
<line x1="418" y1="35.0" x2="420.6" y2="35.0" stroke="#444" stroke-width="0.8"/>
<line x1="418" y1="33.6" x2="420.6" y2="33.6" stroke="#444" stroke-width="0.8"/>
<line x1="418" y1="32.4" x2="420.6" y2="32.4" stroke="#444" stroke-width="0.8"/>
<line x1="418" y1="31.4" x2="420.6" y2="31.4" stroke="#444" stroke-width="0.8"/>
<line x1="442.0" y1="225" x2="442.0" y2="222.0" stroke="#000" stroke-width="1.5"/>
<line x1="492.3" y1="225" x2="492.3" y2="222.0" stroke="#000" stroke-width="1.5"/>
<line x1="540.7" y1="225" x2="540.7" y2="222.0" stroke="#000" stroke-width="1.5"/>
<line x1="589.9" y1="225" x2="589.9" y2="222.0" stroke="#000" stroke-width="1.5"/>
<text x="414" y="54.40" text-anchor="end" font-family="Liberation Sans, sans-serif" font-weight="bold"><tspan font-size="20.5">10</tspan><tspan font-size="14" dy="-7.7">-2</tspan></text>
<text x="414" y="89.92" text-anchor="end" font-family="Liberation Sans, sans-serif" font-weight="bold"><tspan font-size="20.5">10</tspan><tspan font-size="14" dy="-7.7">-4</tspan></text>
<text x="414" y="125.44" text-anchor="end" font-family="Liberation Sans, sans-serif" font-weight="bold"><tspan font-size="20.5">10</tspan><tspan font-size="14" dy="-7.7">-6</tspan></text>
<text x="414" y="160.96" text-anchor="end" font-family="Liberation Sans, sans-serif" font-weight="bold"><tspan font-size="20.5">10</tspan><tspan font-size="14" dy="-7.7">-8</tspan></text>
<text x="414" y="196.48" text-anchor="end" font-family="Liberation Sans, sans-serif" font-weight="bold"><tspan font-size="20.5">10</tspan><tspan font-size="14" dy="-7.7">-10</tspan></text>
<text x="414" y="232.00" text-anchor="end" font-family="Liberation Sans, sans-serif" font-weight="bold"><tspan font-size="20.5">10</tspan><tspan font-size="14" dy="-7.7">-12</tspan></text>
<text transform="translate(442.60,245.8) scale(1,1.12)" x="0" y="0" font-size="19.3" text-anchor="middle" font-family="Liberation Sans, sans-serif" font-weight="bold">-6</text>
<text transform="translate(492.30,245.8) scale(1,1.12)" x="0" y="0" font-size="19.3" text-anchor="middle" font-family="Liberation Sans, sans-serif" font-weight="bold">-3</text>
<text transform="translate(540.90,245.8) scale(1,1.12)" x="0" y="0" font-size="19.3" text-anchor="middle" font-family="Liberation Sans, sans-serif" font-weight="bold">0</text>
<text transform="translate(589.90,245.8) scale(1,1.12)" x="0" y="0" font-size="19.3" text-anchor="middle" font-family="Liberation Sans, sans-serif" font-weight="bold">3</text>
<text transform="translate(637.80,245.8) scale(1,1.12)" x="0" y="0" font-size="19.3" text-anchor="middle" font-family="Liberation Sans, sans-serif" font-weight="bold">6</text>
<text x="494.60" y="266.30" font-size="20" text-anchor="start" font-family="Liberation Sans, sans-serif" font-weight="bold" >V</text>
<text x="508.60" y="268.80" font-size="20" text-anchor="start" font-family="Liberation Sans, sans-serif" font-weight="bold" >G</text>
<text x="530.50" y="266.60" font-size="20" text-anchor="start" font-family="Liberation Sans, sans-serif" font-weight="bold" >(V)</text>
<g transform="translate(365.0,189.8) rotate(-90)"><text x="0" y="0" font-family="Liberation Sans, sans-serif" font-weight="bold" font-size="21">I<tspan font-size="17.5" dy="0.8">D</tspan><tspan dy="-0.8"> (mA/mm)</tspan></text></g>
</svg>
</body></html>
